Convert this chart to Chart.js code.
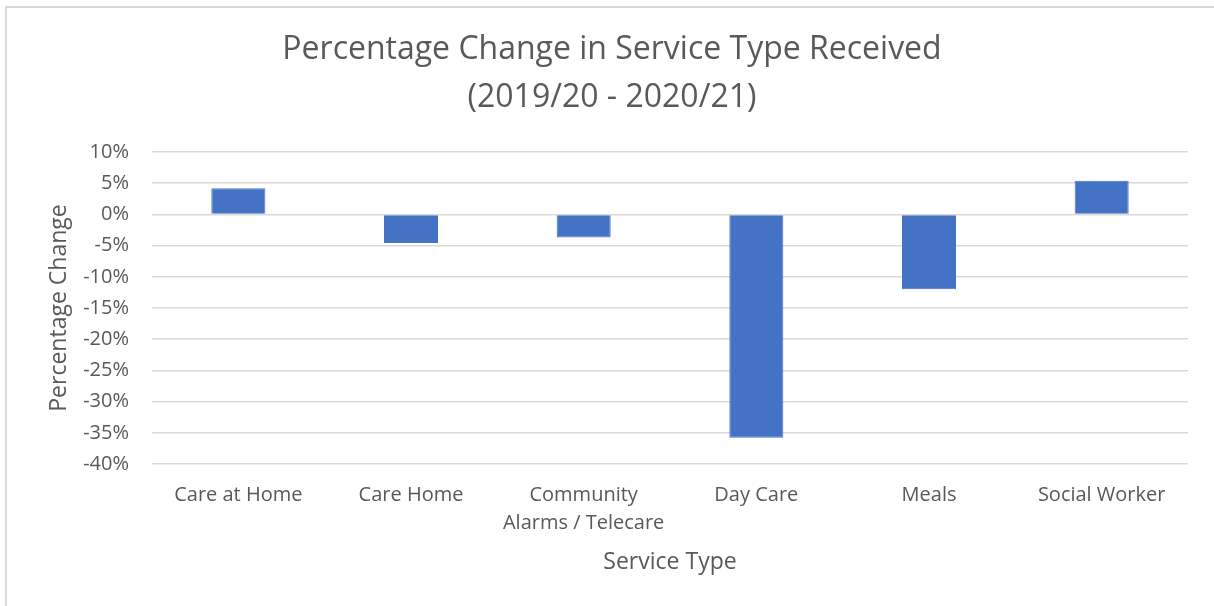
<!DOCTYPE html>
<html>
<head>
<meta charset="utf-8">
<script src="https://cdn.jsdelivr.net/npm/chart.js@4"></script>
<style>
  html, body { margin: 0; padding: 0; background: #fff; }
  #wrap { position: relative; width: 1214px; height: 606px; overflow: hidden; }
  #frame { position: absolute; left: 5px; top: 6px; width: 1300px; height: 700px;
           border-left: 2px solid #d9d9d9; border-top: 2px solid #d9d9d9; }
  canvas { position: absolute; left: 0; top: 0; }
</style>
</head>
<body>
<div id="wrap">
  <div id="frame"></div>
  <canvas id="chart" width="1214" height="606"></canvas>
</div>
<script>
// categories and values (percent)
const serviceTypes = ['Care at Home', 'Care Home', ['Community', 'Alarms / Telecare'], 'Day Care', 'Meals', 'Social Worker'];
const pctChange = [4.2, -4.6, -3.7, -35.8, -12.0, 5.4];
const yMin = -40;
const yMax = 10;
const yStep = 5;

const grey = '#595959';
const font = 'Open Sans';

new Chart(document.getElementById('chart'), {
  type: 'bar',
  data: {
    labels: serviceTypes,
    datasets: [{
      label: 'Percentage Change',
      data: pctChange,
      backgroundColor: '#4472C4',
      borderColor: '#4472C4',
      borderWidth: 1,
      barPercentage: 0.313,
      categoryPercentage: 1
    }]
  },
  options: {
    responsive: false,
    animation: false,
    layout: { padding: { left: 10, right: 0, top: 0, bottom: 0 } },
    plugins: {
      legend: { display: false },
      tooltip: { enabled: false },
      title: {
        display: true,
        text: ['Percentage Change in Service Type Received', '(2019/20 - 2020/21)'],
        color: grey,
        font: { family: font, size: 32, weight: 'normal', lineHeight: 1.5 },
        padding: { top: 26, bottom: 30 }
      }
    },
    scales: {
      x: {
        grid: { display: false, drawTicks: false },
        border: { display: false },
        ticks: { color: grey, font: { family: font, size: 20, lineHeight: 1.4 }, padding: 17, maxRotation: 0 },
        title: {
          display: true,
          text: 'Service Type',
          color: grey,
          font: { family: font, size: 23 },
          padding: { top: 0, bottom: 30 }
        },
        afterFit: scale => { scale.height = 142; }
      },
      y: {
        min: yMin,
        max: yMax,
        grid: { color: '#d9d9d9', lineWidth: 1.5, drawTicks: false },
        border: { display: false },
        ticks: {
          stepSize: yStep,
          color: grey,
          font: { family: font, size: 20 },
          padding: 23,
          callback: v => v + '%'
        },
        title: {
          display: true,
          text: 'Percentage Change',
          color: grey,
          font: { family: font, size: 23 },
          padding: { top: 36, bottom: 0 }
        },
        afterFit: scale => { scale.width = 142; }
      },
      // empty right-hand spacer so the title centres like the reference
      yRight: {
        position: 'right',
        grid: { display: false, drawTicks: false },
        border: { display: false },
        ticks: { display: false },
        afterFit: scale => { scale.width = 26; }
      }
    }
  }
});
</script>
</body>
</html>
